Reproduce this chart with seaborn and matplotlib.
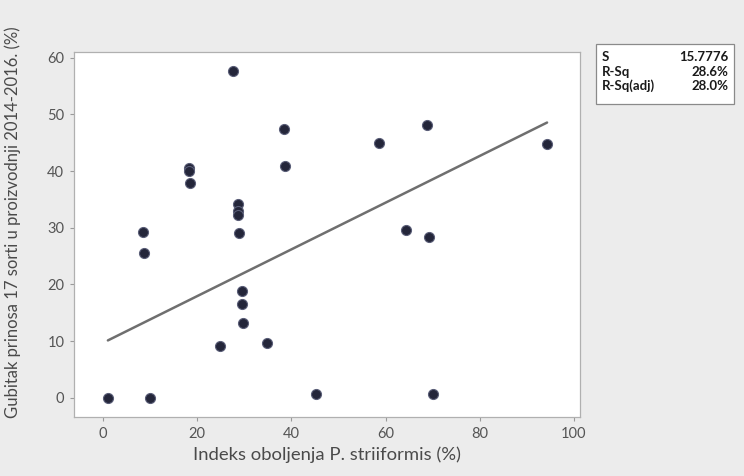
import numpy as np
import pandas as pd
import seaborn as sns
import matplotlib.pyplot as plt

# data
disease_index = [1.0, 10.0, 8.5, 8.6, 18.2, 18.2, 18.4, 27.6,
                 28.7, 28.7, 28.7, 28.9, 29.4, 29.5, 29.7,
                 24.8, 34.8, 38.4, 38.7, 45.3,
                 58.7, 68.8, 64.3, 69.3, 70.1, 94.3]
yield_loss = [0.0, 0.0, 29.2, 25.6, 40.6, 40.0, 37.9, 57.7,
              34.2, 33.0, 32.3, 29.1, 18.9, 16.5, 13.2,
              9.2, 9.6, 47.5, 40.9, 0.6,
              45.0, 48.1, 29.6, 28.3, 0.6, 44.8]

# fitted line as printed in the chart (Minitab regression)
fit_intercept = 9.7
fit_slope = 0.412

stat_names = ["S", "R-Sq", "R-Sq(adj)"]
stat_values = ["15.7776", "28.6%", "28.0%"]

df = pd.DataFrame({"x": disease_index, "y": yield_loss})
x_fit = np.array([min(disease_index), max(disease_index)])
fit_df = pd.DataFrame({"x": x_fit, "y": fit_intercept + fit_slope * x_fit})

sns.set_theme(style="white")
plt.rcParams['font.family'] = ['Lato', 'DejaVu Sans']

fig = plt.figure(figsize=(7.44, 4.76), dpi=100, facecolor="#ececec")
ax = fig.add_axes([74 / 744, 59 / 476, 506 / 744, 365 / 476])
ax.set_facecolor("white")

sns.lineplot(data=fit_df, x="x", y="y", ax=ax, color="#6f6f6f", lw=1.8, zorder=2)
sns.scatterplot(data=df, x="x", y="y", ax=ax, s=52, color="#24263a",
                edgecolor="#5a5e78", linewidth=0.8, zorder=3)

ax.set_xlim(-6.2, 101.3)
ax.set_ylim(-3.4, 61.0)
ax.set_xticks([0, 20, 40, 60, 80, 100])
ax.set_yticks([0, 10, 20, 30, 40, 50, 60])
ax.tick_params(axis="both", direction="out", length=3, width=0.8,
               color="#9a9a9a", labelsize=10.5, labelcolor="#555555",
               bottom=True, left=True, pad=4)
for sp in ax.spines.values():
    sp.set_color("#b0b0b0")
    sp.set_linewidth(0.9)

ax.set_xlabel("Indeks oboljenja P. striiformis (%)", fontsize=13.3,
              color="#4a4a4a", labelpad=4)
ax.set_ylabel("Gubitak prinosa 17 sorti u proizvodnji 2014-2016. (%)",
              fontsize=12, color="#4a4a4a")
ax.yaxis.set_label_coords(-0.105, 0.534)

# summary box on the right
box = plt.Rectangle((596 / 744, 1 - 104 / 476), 138 / 744, 60 / 476,
                    transform=fig.transFigure, facecolor="white",
                    edgecolor="#8a8a8a", lw=0.9)
fig.patches.append(box)
for i, (name, val) in enumerate(zip(stat_names, stat_values)):
    yy = 1 - (57 + i * 14.5) / 476
    fig.text(602 / 744, yy, name, fontsize=9.5, color="#1a1a1a",
             va="center", ha="left", fontweight="bold")
    fig.text(728 / 744, yy, val, fontsize=9.5, color="#1a1a1a",
             va="center", ha="right", fontweight="bold")

fig.savefig("out.png", dpi=100, facecolor=fig.get_facecolor())
